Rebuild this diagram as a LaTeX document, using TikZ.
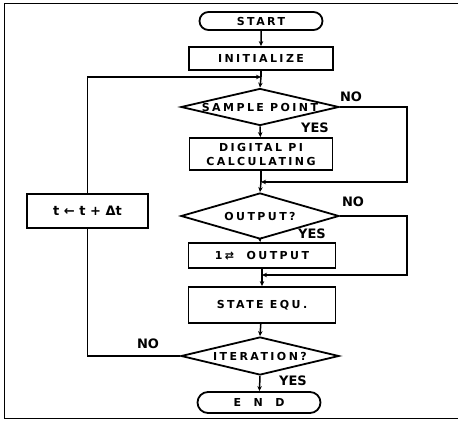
\documentclass[tikz,border=0pt]{standalone}
\usepackage{fontspec}
\newfontfamily\chartfont[LetterSpace=22]{DejaVu Sans}
\newfontfamily\labelfont{DejaVu Sans}
\usetikzlibrary{shapes.geometric,shapes.misc,arrows.meta}
\tikzset{
  box/.style={draw, line width=1.8pt, inner sep=0pt, font=\chartfont\bfseries\fontsize{11}{14}\selectfont, align=center},
  termbox/.style={box, rounded rectangle},
  decbox/.style={box, diamond, aspect=4},
  flow/.style={line width=1.5pt, -{Stealth[length=5pt,width=4.5pt]}},
  line/.style={line width=1.5pt},
  yn/.style={font=\labelfont\bfseries\fontsize{13}{15}\selectfont}
}
\begin{document}
\begin{tikzpicture}[x=1pt, y=-1pt]
      \useasboundingbox (0,0) rectangle (461,422);
      \draw[line width=1pt] (458,4) -- (4,4) -- (4,418) -- (458,418);

      \node[termbox, minimum width=123, minimum height=18] (start) at (261,21) {START};
      \node[box, minimum width=144, minimum height=23] (init) at (261,58.5) {INITIALIZE};
      \node[decbox, minimum width=158, minimum height=37] (sample) at (260,107) {\makebox[0pt]{SAMPLE POINT}};
      \node[box, minimum width=143, minimum height=32] (digital) at (261,154) {DIGITAL PI\\CALCULATING};
      \node[decbox, minimum width=158, minimum height=46] (output) at (260,216) {\makebox[0pt]{OUTPUT?}};
      \node[box, minimum width=147, minimum height=25] (outbox) at (262,255.5) {1⇄\ \ OUTPUT};
      \node[box, minimum width=147, minimum height=36] (state) at (262,305) {STATE EQU.};
      \node[decbox, minimum width=158, minimum height=38] (iter) at (260,356) {\makebox[0pt]{ITERATION?}};
      \node[termbox, minimum width=123, minimum height=21] (end) at (259,402.5) {E\ \ N\ \ D};
      \node[box, minimum width=121, minimum height=34, font=\labelfont\bfseries\fontsize{13}{15}\selectfont] (step) at (87.5,211) {t ← t + Δt};

      \coordinate (j1) at (261,77);
      \coordinate (j2) at (261,182);
      \coordinate (j3) at (262,275);

      \draw[flow] (start) -- (init);
      \draw[line] (init) -- (j1);
      \draw[flow] (j1) -- (sample.north);
      \draw[flow] (sample.south) -- (digital);
      \draw[line] (digital) -- (j2);
      \draw[flow] (j2) -- (output.north);
      \draw[flow] (sample.east) -| (407,150) |- (j2);
      \draw[flow] (output.south) -- (outbox);
      \draw[line] (outbox) -- (j3);
      \draw[flow] (j3) -- (state);
      \draw[flow] (output.east) -| (407,250) |- (j3);
      \draw[flow] (state) -- (iter.north);
      \draw[flow] (iter.south) -- (end);
      \draw[line] (iter.west) -| (step.south);
      \draw[flow] (step.north) |- (j1);

      \node[yn] (no1) at (351,97) {NO};
      \node[yn] (yes1) at (315,128) {YES};
      \node[yn] (no2) at (353,202) {NO};
      \node[yn] (yes2) at (312,234) {YES};
      \node[yn] (no3) at (148,344) {NO};
      \node[yn] (yes3) at (293,381) {YES};
    \end{tikzpicture}
\end{document}
